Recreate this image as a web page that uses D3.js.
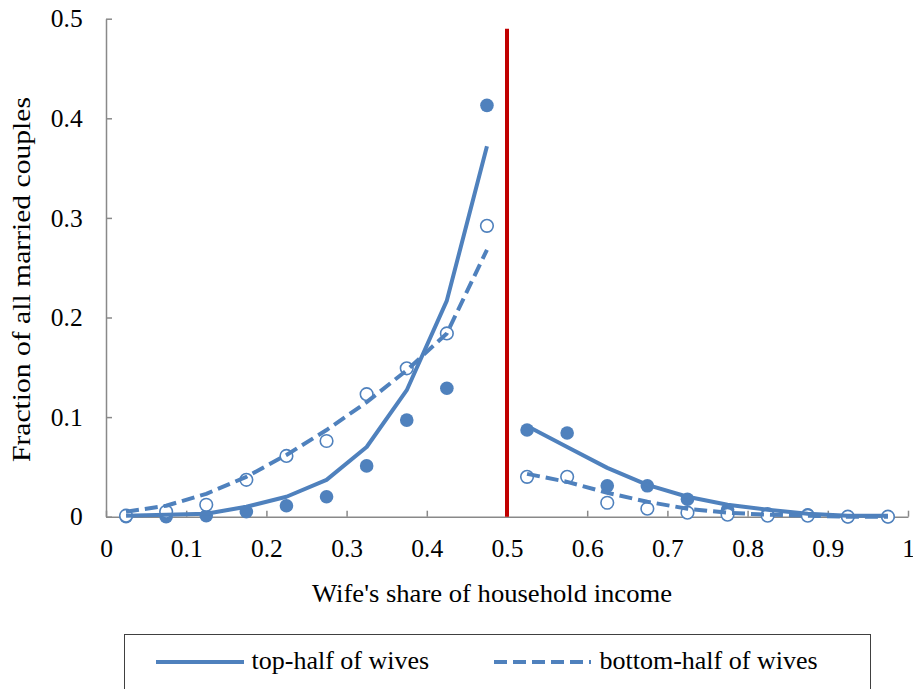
<!DOCTYPE html>
<html><head><meta charset="utf-8"><script src="https://cdn.jsdelivr.net/npm/d3@7"></script></head>
<body style="margin:0">
<svg id="viz" width="913" height="689"></svg>
<script>
// ---- data ----
const bins = [0.025, 0.075, 0.125, 0.175, 0.225, 0.275, 0.325, 0.375, 0.425, 0.475,
              0.525, 0.575, 0.625, 0.675, 0.725, 0.775, 0.825, 0.875, 0.925, 0.975];
const topHalfPoints = [0.000, 0.000, 0.001, 0.005, 0.011, 0.020, 0.051, 0.097, 0.129, 0.413,
                       0.087, 0.084, 0.031, 0.031, 0.0175, 0.007, 0.003, 0.002, 0.000, 0.000];
const bottomHalfPoints = [0.001, 0.005, 0.012, 0.037, 0.061, 0.076, 0.123, 0.149, 0.184, 0.292,
                          0.040, 0.040, 0.014, 0.008, 0.004, 0.002, 0.001, 0.001, 0.000, 0.000];
const topHalfFit = [0.001, 0.002, 0.003, 0.010, 0.020, 0.037, 0.070, 0.127, 0.217, 0.372,
                    0.091, 0.070, 0.049, 0.032, 0.020, 0.012, 0.007, 0.003, 0.001, 0.001];
const bottomHalfFit = [0.005, 0.011, 0.023, 0.040, 0.062, 0.087, 0.115, 0.147, 0.184, 0.268,
                       0.043, 0.035, 0.024, 0.015, 0.008, 0.004, 0.002, 0.001, 0.000, 0.000];
const xTicks = [0, 0.1, 0.2, 0.3, 0.4, 0.5, 0.6, 0.7, 0.8, 0.9, 1];
const yTicks = [0, 0.1, 0.2, 0.3, 0.4, 0.5];
const cutoff = 0.5;
const cutoffTop = 0.49;
const seriesNames = ["top-half of wives", "bottom-half of wives"];
const xTitle = "Wife's share of household income";
const yTitle = "Fraction of all married couples";

// ---- layout ----
const FONT = "Liberation Serif";
const BLUE = "#4F81BD", RED = "#C00000", AXIS = "#898989";
const svg = d3.select("#viz").style("font-family", FONT, "important");
const x = d3.scaleLinear().domain([0, 1]).range([106, 908]);
const y = d3.scaleLinear().domain([0, 0.5]).range([516.7, 18.7]);
const fmt = d => String(+(+d).toFixed(1));
const serif = sel => sel.style("font-family", FONT, "important");

// axes
const xAxis = d3.axisBottom(x).tickValues(xTicks).tickFormat(fmt)
  .tickSizeInner(-6).tickSizeOuter(0).tickPadding(22);
const yAxis = d3.axisLeft(y).tickValues(yTicks).tickFormat(fmt)
  .tickSizeInner(-6).tickSizeOuter(0).tickPadding(23.3);

const gx = svg.append("g").attr("transform", `translate(0,${y(0)})`).call(xAxis);
const gy = svg.append("g").attr("transform", `translate(${x(0)},0)`).call(yAxis);
[gx, gy].forEach(g => {
  g.attr("font-family", FONT).attr("font-size", 25.5);
  g.select(".domain").attr("stroke", AXIS).attr("stroke-width", 1.5);
  g.selectAll(".tick line").attr("stroke", AXIS).attr("stroke-width", 1.5);
  g.selectAll(".tick text").attr("fill", "#000").attr("font-size", 25.5).call(serif);
});

// axis titles
svg.append("text").attr("x", 492).attr("y", 601.5).attr("text-anchor", "middle")
  .attr("font-size", 26).attr("textLength", 360).attr("lengthAdjust", "spacingAndGlyphs")
  .call(serif).text(xTitle);
svg.append("text").attr("transform", `translate(29.5,279.5) rotate(-90)`).attr("text-anchor", "middle")
  .attr("font-size", 25.5).attr("textLength", 365).attr("lengthAdjust", "spacingAndGlyphs")
  .call(serif).text(yTitle);

// cutoff line
svg.append("line").attr("x1", x(cutoff)).attr("x2", x(cutoff))
  .attr("y1", y(0)).attr("y2", y(cutoffTop))
  .attr("stroke", RED).attr("stroke-width", 4);

// markers
const pts = bins.map((b, i) => ({ b, t: topHalfPoints[i], m: bottomHalfPoints[i] }));
svg.append("g").selectAll("circle").data(pts).join("circle")
  .attr("cx", d => x(d.b)).attr("cy", d => y(d.t)).attr("r", 6.8).attr("fill", BLUE);
svg.append("g").selectAll("circle").data(pts).join("circle")
  .attr("cx", d => x(d.b)).attr("cy", d => y(d.m)).attr("r", 6.3)
  .attr("fill", "#fff").attr("stroke", BLUE).attr("stroke-width", 1.6);

// fitted lines (separately on each side of the cutoff)
const line = d3.line().x(d => x(d[0])).y(d => y(d[1]));
function drawFit(vals, dash) {
  const left = bins.map((b, i) => [b, vals[i]]).filter(d => d[0] < cutoff);
  const right = bins.map((b, i) => [b, vals[i]]).filter(d => d[0] > cutoff);
  [left, right].forEach(seg => {
    svg.append("path").datum(seg).attr("d", line)
      .attr("fill", "none").attr("stroke", BLUE).attr("stroke-width", 4)
      .attr("stroke-linejoin", "round")
      .attr("stroke-dasharray", dash || null);
  });
}
drawFit(topHalfFit, null);
drawFit(bottomHalfFit, "13,6");

// legend
const lg = svg.append("g");
lg.append("rect").attr("x", 124.5).attr("y", 634.5).attr("width", 746).attr("height", 80)
  .attr("fill", "#fff").attr("stroke", "#404040").attr("stroke-width", 1);
lg.append("line").attr("x1", 156).attr("x2", 244).attr("y1", 662).attr("y2", 662)
  .attr("stroke", BLUE).attr("stroke-width", 4);
lg.append("text").attr("x", 251.5).attr("y", 668.5).attr("font-size", 26)
  .call(serif).text(seriesNames[0]);
lg.append("line").attr("x1", 494).attr("x2", 591).attr("y1", 662).attr("y2", 662)
  .attr("stroke", BLUE).attr("stroke-width", 4).attr("stroke-dasharray", "13,6");
lg.append("text").attr("x", 599.5).attr("y", 668.5).attr("font-size", 26)
  .call(serif).text(seriesNames[1]);
</script>
</body>
</html>
